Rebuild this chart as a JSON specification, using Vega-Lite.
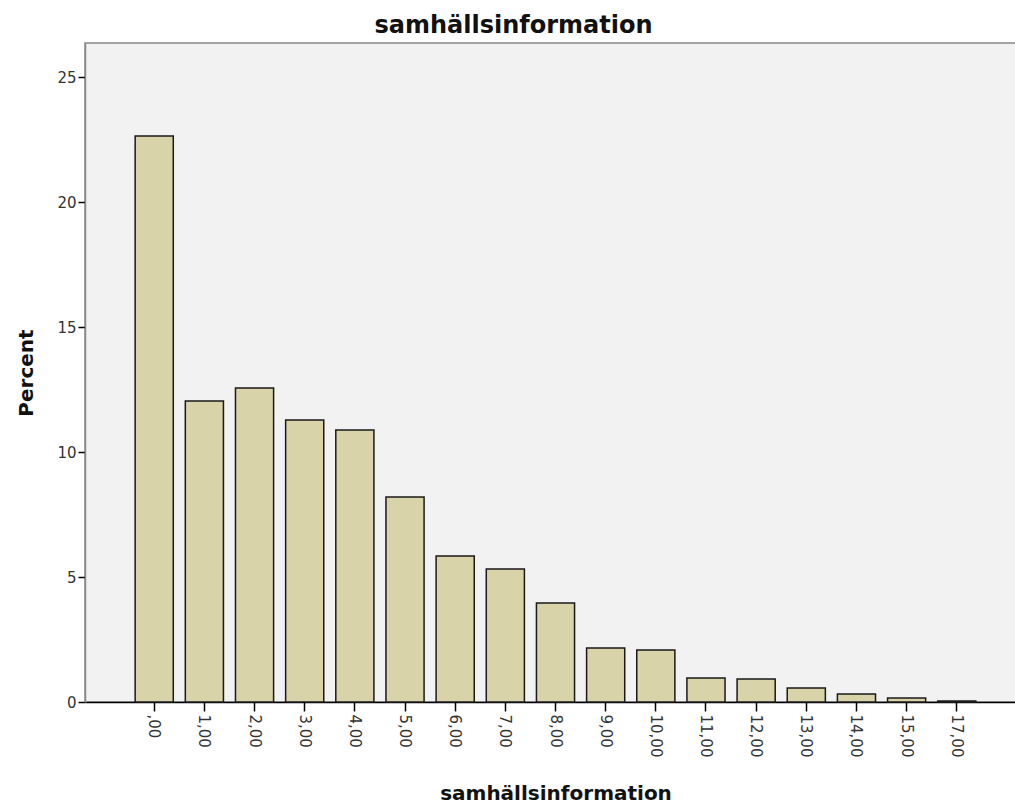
{
  "$schema": "https://vega.github.io/schema/vega-lite/v6.json",
  "width": 941,
  "height": 659,
  "autosize": {"type": "none"},
  "padding": {"left": 85, "top": 43, "right": 0, "bottom": 103},
  "background": "white",
  "title": {"text": "samhällsinformation", "fontSize": 24, "font": "DejaVu Sans", "fontWeight": "bold", "color": "#111", "anchor": "middle", "dx": -42, "offset": 5},
  "config": {
    "view": {"fill": "#f2f2f2", "stroke": "#8a8a8a", "strokeWidth": 1.5},
    "axis": {"labelFont": "DejaVu Sans", "titleFont": "DejaVu Sans", "labelColor": "#333", "titleColor": "#111", "grid": false}
  },
  "data": {"values": [
    {"v": 0, "label": ",00", "pct": 22.64},
    {"v": 1, "label": "1,00", "pct": 12.04},
    {"v": 2, "label": "2,00", "pct": 12.56},
    {"v": 3, "label": "3,00", "pct": 11.28},
    {"v": 4, "label": "4,00", "pct": 10.88},
    {"v": 5, "label": "5,00", "pct": 8.2},
    {"v": 6, "label": "6,00", "pct": 5.84},
    {"v": 7, "label": "7,00", "pct": 5.32},
    {"v": 8, "label": "8,00", "pct": 3.96},
    {"v": 9, "label": "9,00", "pct": 2.16},
    {"v": 10, "label": "10,00", "pct": 2.08},
    {"v": 11, "label": "11,00", "pct": 0.96},
    {"v": 12, "label": "12,00", "pct": 0.92},
    {"v": 13, "label": "13,00", "pct": 0.56},
    {"v": 14, "label": "14,00", "pct": 0.32},
    {"v": 15, "label": "15,00", "pct": 0.16},
    {"v": 17, "label": "17,00", "pct": 0.04}
  ]},
  "mark": {"type": "bar", "fill": "#d8d3a8", "stroke": "#1a1a1a", "strokeWidth": 1.5},
  "encoding": {
    "x": {
      "field": "label", "type": "ordinal", "sort": {"field": "v"},
      "scale": {"paddingInner": 0.24, "paddingOuter": 1.066},
      "axis": {
        "title": "samhällsinformation", "titleFontSize": 20, "titleFontWeight": "bold", "titlePadding": 27,
        "labelAngle": 90, "labelAlign": "left", "labelBaseline": "middle", "labelFontSize": 15, "labelPadding": 3,
        "tickSize": 9, "tickColor": "#000", "tickWidth": 1.5, "domainColor": "#000", "domainWidth": 1.5
      }
    },
    "y": {
      "field": "pct", "type": "quantitative",
      "scale": {"domain": [0, 26.36], "nice": false},
      "axis": {
        "title": "Percent", "titleFontSize": 20, "titleFontWeight": "bold", "titlePadding": 20,
        "values": [0, 5, 10, 15, 20, 25], "labelFontSize": 15, "labelPadding": 2,
        "tickSize": 7, "tickColor": "#000", "tickWidth": 1.5, "domainColor": "#8a8a8a", "domainWidth": 1.5
      }
    }
  }
}
